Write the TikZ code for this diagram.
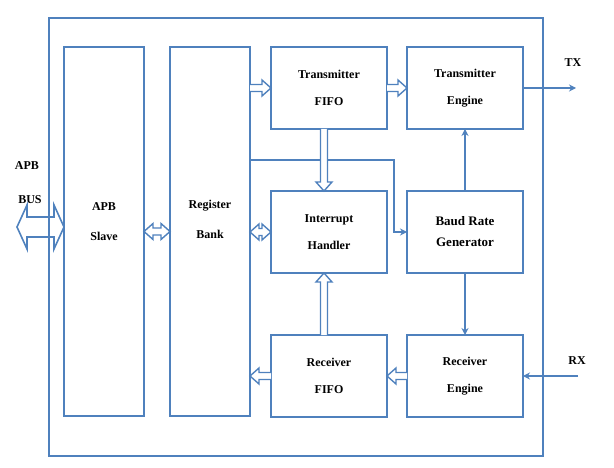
\documentclass[tikz,border=0pt]{standalone}
\usepackage{fontspec}
\setmainfont{Liberation Serif}
\usetikzlibrary{positioning, arrows.meta, calc}
\definecolor{uartblue}{RGB}{79,129,189}
\tikzset{bus width/.initial=3.5pt, bus head/.initial=8pt, bus tip/.initial=9pt}
\def\bw{\pgfkeysvalueof{/tikz/bus width}}
\def\bh{\pgfkeysvalueof{/tikz/bus head}}
\def\bt{\pgfkeysvalueof{/tikz/bus tip}}

\begin{document}
\begin{tikzpicture}[x=1pt, y=-1pt, node distance=62pt and 20pt]

	\tikzstyle{block}=[draw=uartblue, line width=2.2pt, outer sep=0pt, inner sep=0pt, minimum width=116pt, minimum height=82pt, align=center, font=\bfseries\fontsize{12}{27}\selectfont]
	\tikzstyle{tall}=[block, minimum width=80pt, minimum height=369pt]
	\tikzstyle{caption}=[align=center, font=\bfseries\fontsize{12}{30}\selectfont]

	% hollow block arrows
	\tikzstyle{bus}=[draw=uartblue, line width=1.4pt, fill=white, line join=miter, to path={
		($(\tikztostart)!\bw!90:(\tikztotarget)$) -- ($(\tikztotarget)!\bt!(\tikztostart)!\bw!-90:(\tikztostart)$)
		-- ($(\tikztotarget)!\bt!(\tikztostart)!\bh!-90:(\tikztostart)$) -- (\tikztotarget)
		-- ($(\tikztotarget)!\bt!(\tikztostart)!\bh!90:(\tikztostart)$) -- ($(\tikztotarget)!\bt!(\tikztostart)!\bw!90:(\tikztostart)$)
		-- ($(\tikztostart)!\bw!-90:(\tikztotarget)$)}]
	\tikzstyle{busboth}=[draw=uartblue, line width=1.4pt, fill=white, line join=miter, to path={
		(\tikztostart) -- ($(\tikztostart)!\bt!(\tikztotarget)!\bh!90:(\tikztotarget)$) -- ($(\tikztostart)!\bt!(\tikztotarget)!\bw!90:(\tikztotarget)$)
		-- ($(\tikztotarget)!\bt!(\tikztostart)!\bw!-90:(\tikztostart)$) -- ($(\tikztotarget)!\bt!(\tikztostart)!\bh!-90:(\tikztostart)$)
		-- (\tikztotarget)
		-- ($(\tikztotarget)!\bt!(\tikztostart)!\bh!90:(\tikztostart)$) -- ($(\tikztotarget)!\bt!(\tikztostart)!\bw!90:(\tikztostart)$)
		-- ($(\tikztostart)!\bt!(\tikztotarget)!\bw!-90:(\tikztotarget)$) -- ($(\tikztostart)!\bt!(\tikztotarget)!\bh!-90:(\tikztotarget)$)
		-- cycle}]
	\tikzstyle{signal}=[draw=uartblue, line width=1.5pt, -{Stealth[length=7pt, width=7pt]}]

	\useasboundingbox (0,0) rectangle (614,468);

	\node[draw=uartblue, line width=2pt, outer sep=0pt, minimum width=494pt, minimum height=438pt, anchor=north west] (frame) at (49,18) {};

	\node[tall, anchor=north west, label={[caption, yshift=10pt]center:APB\\Slave}] (slave) at (64,47) {};
	\node[tall, right=26pt of slave, label={[caption, yshift=12pt]center:Register\\Bank}] (bank) {};

	\node[block, right=21pt of bank.north east, anchor=north west] (txfifo) {Transmitter\\FIFO};
	\node[block, right=of txfifo] (txeng) {Transmitter\\Engine};
	\node[block, below=of txfifo] (irq) {Interrupt\\Handler};
	\node[block, below=of txeng, font=\bfseries\fontsize{13}{21}\selectfont] (baud) {Baud Rate\\Generator};
	\node[block, below=of irq] (rxfifo) {Receiver\\FIFO};
	\node[block, below=of baud] (rxeng) {Receiver\\Engine};

	\coordinate[right=53pt of txeng.east] (tx);
	\coordinate[right=55pt of rxeng.east] (rx);
	\coordinate (bus) at (17,227);

	\node[caption] (txlabel) at (573,63) {TX};
	\node[caption] (rxlabel) at (577,361) {RX};
	\node[caption] (apblabel) at (27,166) {APB};
	\node[caption] (buslabel) at (30,200) {BUS};

	% apb bus
	\draw[busboth, fill=none, line width=1.6pt, bus width=10pt, bus head=22pt, bus tip=10pt] (bus) to (slave.west |- bus);

	\draw[signal] ([yshift=-113pt]bank.north east) -| ([xshift=-13pt]baud.west) -- (baud.west);
	\draw[signal] (baud.north) -- (txeng.south);
	\draw[signal] (baud.south) -- (rxeng.north);
	\draw[signal] (txeng.east) -- (tx);
	\draw[signal] (rx) -- (rxeng.east);

	\draw[busboth] (slave.east) to (bank.west);
	\draw[busboth] (bank.east |- irq.west) to (irq.west);
	\draw[bus] (bank.east |- txfifo.west) to (txfifo.west);
	\draw[bus] (txfifo.east) to (txeng.west);
	\draw[bus] ([xshift=-5pt]txfifo.south) to ([xshift=-5pt]irq.north);
	\draw[bus] ([xshift=-5pt]rxfifo.north) to ([xshift=-5pt]irq.south);
	\draw[bus] (rxeng.west) to (rxfifo.east);
	\draw[bus] (rxfifo.west) to (bank.east |- rxfifo.west);

\end{tikzpicture}
\end{document}
